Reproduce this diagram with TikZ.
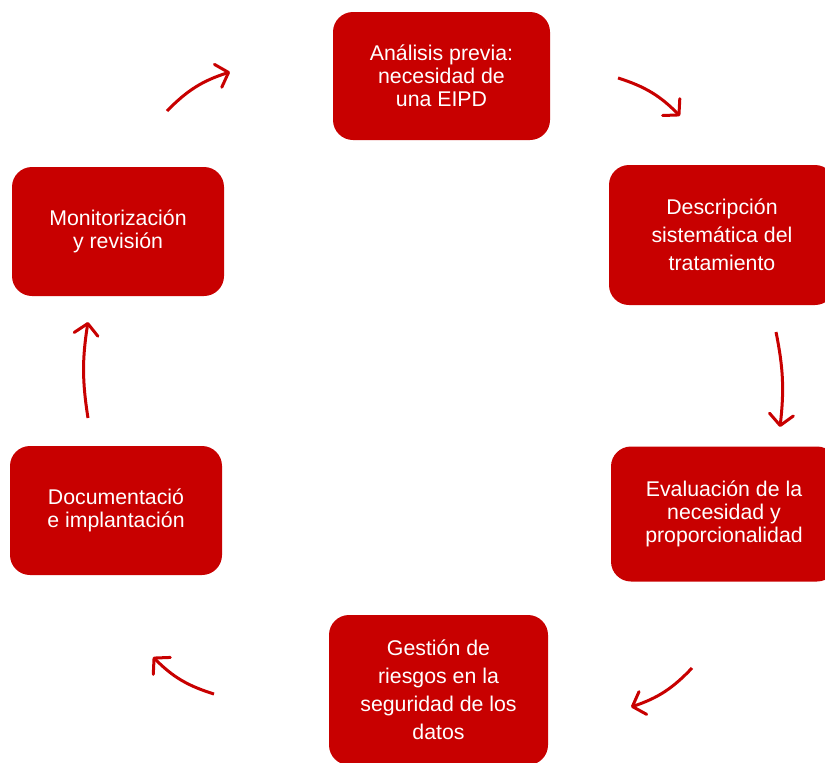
\documentclass[tikz,border=0pt]{standalone}
\usepackage{fontspec}
\setmainfont{Liberation Sans}
\usetikzlibrary{arrows.meta}
\definecolor{box_red}{RGB}{200,0,0}

\begin{document}
\begin{tikzpicture}[x=1pt,y=-1pt,semithick]
    \tikzstyle{box}=[draw=none, fill=box_red, rounded corners=20pt, align=center, text=white, font=\fontsize{21.3}{23}\selectfont]
    \tikzstyle{wide}=[font=\fontsize{21.3}{28}\selectfont]
    \tikzstyle{step_arrow}=[draw=box_red, line width=3pt, -{Straight Barb[length=11pt,width=24pt,round]}, bend left=14]

    \useasboundingbox (0,0) rectangle (825,763);
    \clip (0,0) rectangle (825,763);

    \node[box, minimum width=217pt, minimum height=128pt] (analisis)       at (441.5,76)  {Análisis previa:\\necesidad de\\una EIPD};
    \node[box, wide, minimum width=226pt, minimum height=140pt] (descripcion) at (722,235) {Descripción\\sistemática del\\tratamiento};
    \node[box, minimum width=226pt, minimum height=135pt] (evaluacion)     at (724,514)   {Evaluación de la\\necesidad y\\proporcionalidad};
    \node[box, wide, minimum width=219pt, minimum height=150pt] (gestion)  at (438.5,690) {Gestión de\\riesgos en la\\seguridad de los\\datos};
    \node[box, minimum width=212pt, minimum height=129pt] (documentacion)  at (116,510.5) {Documentació\\e implantación};
    \node[box, minimum width=212pt, minimum height=129pt] (monitorizacion) at (118,231.5) {Monitorización\\y revisión};

    % ends of the arrows between the steps
    \coordinate (a1) at (167,111);  \coordinate (a2) at (230,72);
    \coordinate (b1) at (618,78);   \coordinate (b2) at (680,116);
    \coordinate (c1) at (776,332);  \coordinate (c2) at (780,427);
    \coordinate (d1) at (692,668);  \coordinate (d2) at (631,707);
    \coordinate (e1) at (214,694);  \coordinate (e2) at (153,657);
    \coordinate (f1) at (88,418);   \coordinate (f2) at (88,322);

    \path
     (a1) edge[step_arrow] (a2)
     (b1) edge[step_arrow] (b2)
     (c1) edge[step_arrow, bend left=9] (c2)
     (d1) edge[step_arrow] (d2)
     (e1) edge[step_arrow] (e2)
     (f1) edge[step_arrow, bend left=9] (f2)
     ;
\end{tikzpicture}
\end{document}
